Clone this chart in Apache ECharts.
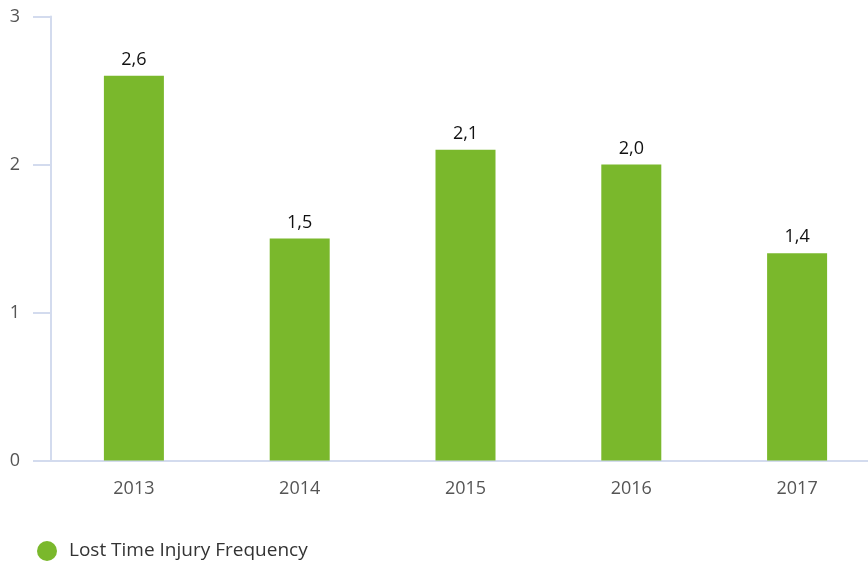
<!DOCTYPE html>
<html>
<head>
<meta charset="utf-8">
<script src="https://cdn.jsdelivr.net/npm/echarts@6/dist/echarts.min.js"></script>
<style>
  html, body { margin: 0; padding: 0; background: #fff; overflow: hidden; }
  #chart { width: 880px; height: 561px; }
</style>
</head>
<body>
<div id="chart"></div>
<script>
var years = ['2013', '2014', '2015', '2016', '2017'];
var ltif = [2.6, 1.5, 2.1, 2.0, 1.4];

// chart is a bit wider than the window, the last category is cut like in the source
var chart = echarts.init(document.getElementById('chart'));
var font = '"Open Sans", Lato, sans-serif';

chart.setOption({
    animation: false,
    textStyle: { fontFamily: font },
    grid: { left: 51, right: 0, top: 16.5, bottom: 100.5 },
    legend: {
        left: 32, top: 536,
        icon: 'circle', itemWidth: 20, itemHeight: 20, itemGap: 10,
        textStyle: { fontSize: 19, color: '#333', fontFamily: font, padding: [0, 0, 0, 7] },
        data: ['Lost Time Injury Frequency']
    },
    xAxis: {
        type: 'category',
        data: years,
        axisLine: { lineStyle: { color: '#d3dbee', width: 2 } },
        axisTick: { show: false },
        axisLabel: { color: '#555', fontSize: 18, margin: 19 }
    },
    yAxis: {
        type: 'value',
        min: 0, max: 3, interval: 1,
        axisLine: { show: true, lineStyle: { color: '#d3dbee', width: 2 } },
        axisTick: { show: true, length: 18, lineStyle: { color: '#d3dbee', width: 2 } },
        splitLine: { show: false },
        axisLabel: { color: '#555', fontSize: 18, margin: 31 }
    },
    series: [{
        name: 'Lost Time Injury Frequency',
        type: 'bar',
        data: ltif,
        barWidth: 60,
        itemStyle: { color: '#7ab82c' },
        label: {
            show: true, position: 'top', distance: 7,
            color: '#111', fontSize: 18,
            formatter: function (p) { return p.value.toFixed(1).replace('.', ','); }
        }
    }]
});
</script>
</body>
</html>
